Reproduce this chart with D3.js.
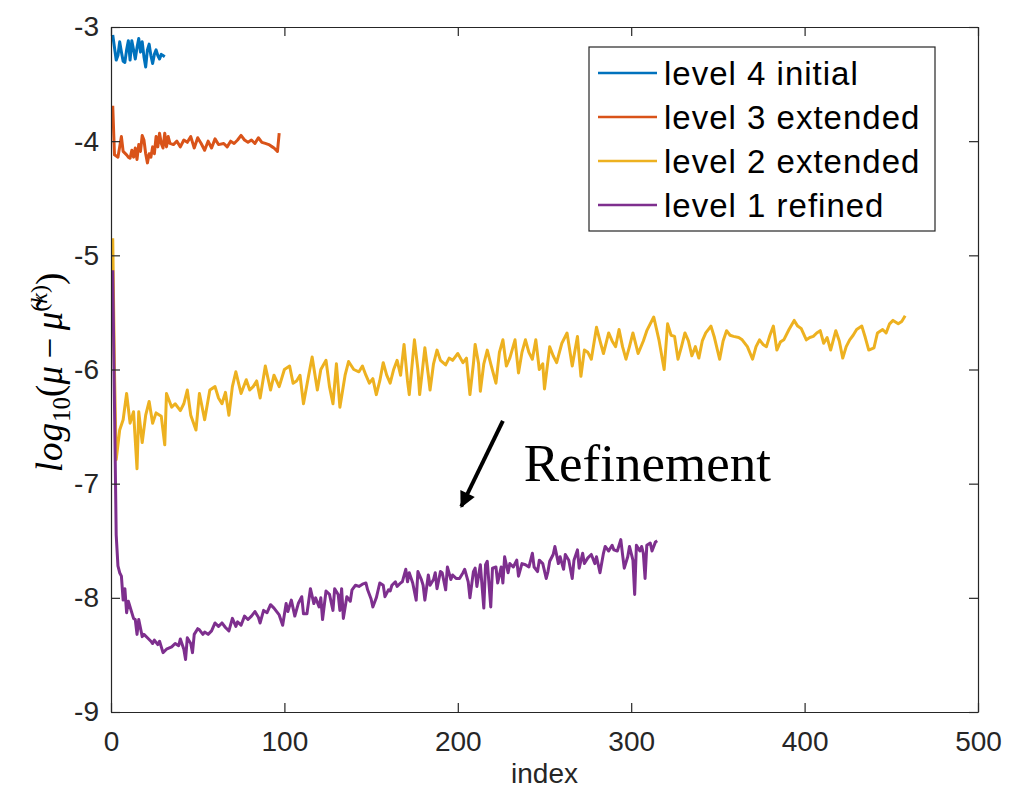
<!DOCTYPE html>
<html>
<head>
<meta charset="utf-8">
<script src="https://cdn.jsdelivr.net/npm/d3@7"></script>
<style>
    body { margin: 0; background: #fff; }
    svg { display: block; font-family: "Liberation Sans", Arial, sans-serif; }
</style>
</head>
<body>
<div id="chart"></div>
<script>
// ============================================================================
// DATA  — [index, log10 error]
// ============================================================================

const seriesNames  = ["level 4 initial", "level 3 extended", "level 2 extended", "level 1 refined"];
const seriesColors = ["#0072BD", "#D95319", "#EDB120", "#7E2F8E"];

const xTicks = [0, 100, 200, 300, 400, 500];
const yTicks = [-9, -8, -7, -6, -5, -4, -3];

const level4 = [
    [1,-3.07],[2,-3.18],[3,-3.29],[4,-3.25],[5,-3.13],[6,-3.22],[7,-3.30],[8,-3.31],
    [9,-3.20],[10,-3.12],[11,-3.29],[12,-3.12],[13,-3.20],[14,-3.28],[15,-3.18],[16,-3.10],
    [17,-3.22],[18,-3.13],[19,-3.26],[20,-3.35],[21,-3.20],[22,-3.15],[23,-3.25],[24,-3.32],
    [25,-3.24],[26,-3.20],[27,-3.25],[28,-3.28],[29,-3.24],[30,-3.25],[31,-3.26]
];

const level3 = [
    [1,-3.69],[2,-4.12],[4,-4.14],[5,-4.05],[6,-3.96],[7,-4.09],[9,-4.12],[10,-4.14],
    [11,-4.15],[12,-4.08],[13,-4.14],[14,-4.06],[15,-4.16],[16,-4.03],[17,-4.09],[18,-3.95],
    [19,-3.99],[20,-4.11],[21,-4.19],[22,-4.11],[23,-4.14],[24,-4.05],[25,-4.11],[26,-3.96],
    [27,-4.05],[28,-3.93],[29,-4.02],[30,-4.06],[31,-3.93],[32,-4.05],[33,-3.96],[34,-4.02],
    [36,-4.03],[38,-4.00],[40,-4.05],[42,-3.99],[44,-4.01],[46,-3.96],[48,-4.06],[50,-3.97],
    [52,-4.02],[54,-4.08],[56,-4.00],[58,-4.06],[60,-3.98],[62,-4.03],[65,-4.02],[67,-4.05],
    [69,-4.00],[71,-4.02],[73,-3.99],[75,-3.95],[77,-3.99],[79,-4.01],[81,-3.99],[83,-4.02],
    [85,-3.97],[87,-4.01],[89,-4.02],[91,-4.03],[93,-4.05],[94,-4.06],[96,-4.09],[97,-3.93]
];

const level2 = [
    [1,-4.85],[2,-6.00],[3,-6.79],[5,-6.53],[7,-6.44],[9,-6.21],[11,-6.47],[13,-6.37],
    [15,-6.87],[16,-6.37],[18,-6.64],[20,-6.40],[22,-6.28],[24,-6.47],[26,-6.38],[29,-6.41],
    [31,-6.66],[32,-6.21],[35,-6.33],[37,-6.30],[40,-6.36],[42,-6.30],[44,-6.18],[46,-6.40],
    [49,-6.53],[51,-6.21],[54,-6.44],[57,-6.18],[60,-6.15],[62,-6.25],[64,-6.30],[66,-6.20],
    [68,-6.40],[70,-6.15],[72,-6.02],[75,-6.21],[78,-6.09],[80,-6.18],[82,-6.15],[84,-6.10],
    [86,-6.25],[89,-5.97],[92,-6.18],[94,-6.05],[97,-6.15],[100,-6.00],[103,-5.97],[105,-6.12],
    [107,-6.10],[109,-6.05],[111,-6.30],[114,-6.05],[116,-5.89],[119,-6.18],[121,-6.00],[124,-5.92],
    [126,-6.15],[128,-6.30],[130,-5.95],[132,-6.33],[135,-6.05],[137,-5.93],[140,-6.00],[143,-6.02],
    [145,-5.97],[147,-6.05],[149,-6.12],[151,-6.08],[153,-6.22],[155,-6.10],[157,-5.94],[159,-6.05],
    [161,-6.12],[163,-6.00],[165,-5.92],[167,-6.05],[169,-5.78],[171,-6.10],[172,-6.22],[174,-5.90],
    [175,-5.74],[177,-6.00],[178,-6.22],[180,-5.95],[181,-5.81],[183,-6.05],[184,-6.18],[186,-5.95],
    [188,-5.83],[190,-5.92],[193,-5.96],[195,-5.90],[197,-5.92],[200,-5.86],[203,-5.94],[205,-5.90],
    [207,-6.22],[209,-5.95],[210,-5.78],[212,-5.95],[213,-6.19],[215,-5.95],[217,-5.83],[219,-5.95],
    [222,-6.12],[224,-5.85],[226,-5.74],[228,-5.97],[230,-5.90],[233,-5.74],[235,-6.03],[237,-5.85],
    [239,-5.74],[241,-5.85],[243,-5.91],[245,-5.74],[247,-6.00],[249,-5.95],[250,-6.17],[253,-5.80],
    [255,-5.88],[257,-5.94],[260,-5.77],[263,-5.68],[266,-5.97],[269,-5.71],[271,-6.06],[273,-5.83],
    [275,-5.85],[277,-5.91],[280,-5.63],[282,-5.75],[284,-5.86],[287,-5.68],[289,-5.75],[291,-5.80],
    [293,-5.65],[295,-5.80],[297,-5.91],[299,-5.80],[301,-5.68],[304,-5.86],[307,-5.75],[309,-5.66],
    [313,-5.54],[316,-5.74],[319,-6.00],[321,-5.60],[323,-5.70],[325,-5.71],[327,-5.91],[329,-5.80],
    [331,-5.68],[333,-5.75],[335,-5.88],[337,-5.80],[339,-5.90],[341,-5.75],[343,-5.68],[346,-5.62],
    [348,-5.72],[351,-5.91],[353,-5.75],[355,-5.66],[357,-5.70],[359,-5.71],[362,-5.72],[364,-5.74],
    [367,-5.80],[370,-5.91],[372,-5.80],[374,-5.74],[376,-5.78],[378,-5.80],[380,-5.70],[382,-5.62],
    [384,-5.83],[386,-5.76],[388,-5.74],[391,-5.65],[394,-5.57],[396,-5.62],[398,-5.64],[401,-5.74],
    [403,-5.72],[405,-5.71],[407,-5.68],[409,-5.66],[411,-5.77],[413,-5.72],[415,-5.83],[418,-5.66],
    [420,-5.75],[422,-5.90],[424,-5.80],[426,-5.74],[428,-5.70],[430,-5.65],[433,-5.62],[435,-5.72],
    [437,-5.83],[440,-5.81],[442,-5.68],[445,-5.65],[447,-5.68],[449,-5.60],[451,-5.57],[454,-5.60],
    [456,-5.58],[458,-5.53]
];

const level1 = [
    [1,-5.13],[2,-6.30],[3,-7.45],[4,-7.72],[5,-7.78],[6,-7.81],[7,-8.02],[8,-7.92],
    [9,-8.13],[10,-8.03],[11,-8.08],[13,-8.18],[14,-8.19],[15,-8.32],[16,-8.19],[18,-8.34],
    [19,-8.32],[21,-8.35],[23,-8.38],[24,-8.40],[25,-8.37],[27,-8.41],[28,-8.38],[29,-8.43],
    [30,-8.48],[32,-8.45],[35,-8.43],[37,-8.40],[39,-8.42],[40,-8.36],[42,-8.45],[43,-8.54],
    [44,-8.35],[46,-8.40],[47,-8.48],[48,-8.32],[50,-8.27],[51,-8.28],[53,-8.32],[54,-8.30],
    [56,-8.32],[58,-8.29],[60,-8.22],[62,-8.25],[64,-8.22],[66,-8.26],[68,-8.29],[70,-8.18],
    [72,-8.25],[73,-8.21],[75,-8.24],[77,-8.16],[79,-8.19],[81,-8.16],[83,-8.12],[85,-8.17],
    [86,-8.22],[88,-8.11],[90,-8.13],[92,-8.06],[94,-8.09],[96,-8.13],[97,-8.15],[99,-8.24],
    [101,-8.05],[102,-8.12],[104,-8.02],[106,-8.16],[108,-8.05],[110,-7.99],[111,-8.14],[113,-8.14],
    [115,-7.92],[117,-8.05],[118,-8.00],[120,-8.08],[121,-8.00],[122,-8.19],[124,-7.94],[126,-7.97],
    [128,-8.11],[129,-7.92],[131,-7.97],[132,-8.11],[133,-7.92],[134,-8.18],[136,-7.99],[138,-8.03],
    [139,-7.93],[141,-7.89],[143,-7.90],[145,-7.88],[147,-7.87],[148,-7.93],[150,-8.01],[151,-8.08],
    [153,-8.00],[155,-7.87],[157,-7.89],[158,-7.99],[160,-7.93],[161,-7.94],[162,-7.89],[164,-7.86],
    [165,-7.90],[167,-7.87],[168,-7.86],[170,-7.75],[171,-7.86],[172,-7.78],[174,-7.87],[176,-8.02],
    [177,-7.77],[179,-7.84],[180,-7.89],[181,-8.02],[183,-7.80],[184,-7.89],[186,-7.84],[187,-7.78],
    [188,-7.92],[190,-7.77],[191,-7.78],[193,-7.93],[194,-7.73],[196,-7.84],[197,-7.80],[199,-7.83],
    [201,-7.83],[203,-7.78],[204,-7.75],[206,-7.86],[207,-8.00],[209,-7.77],[210,-7.74],[211,-7.90],
    [213,-7.71],[215,-8.09],[216,-7.71],[217,-7.68],[219,-8.08],[220,-7.74],[222,-7.73],[223,-7.87],
    [225,-7.73],[226,-7.87],[227,-7.64],[229,-7.78],[230,-7.70],[232,-7.73],[234,-7.67],[235,-7.81],
    [237,-7.70],[239,-7.71],[241,-7.73],[243,-7.61],[244,-7.73],[246,-7.77],[247,-7.67],[249,-7.70],
    [251,-7.83],[252,-7.77],[253,-7.68],[255,-7.62],[256,-7.55],[258,-7.70],[259,-7.64],[261,-7.75],
    [262,-7.62],[264,-7.67],[266,-7.83],[267,-7.67],[269,-7.58],[270,-7.74],[272,-7.61],[273,-7.70],
    [275,-7.65],[277,-7.62],[279,-7.70],[280,-7.64],[282,-7.78],[284,-7.61],[285,-7.55],[287,-7.59],
    [289,-7.54],[290,-7.58],[292,-7.59],[294,-7.49],[295,-7.62],[296,-7.74],[298,-7.64],[299,-7.55],
    [301,-7.67],[302,-7.97],[303,-7.54],[305,-7.59],[306,-7.55],[307,-7.61],[308,-7.83],[309,-7.54],
    [311,-7.52],[312,-7.59],[314,-7.51],[315,-7.50]
];

const seriesData = [level4, level3, level2, level1];

// Annotation anchor points, in data units
const arrowFrom  = [226, -6.45];
const arrowTo    = [202, -7.20];
const noteAnchor = [238, -6.975];
const noteText   = "Refinement";


// ============================================================================
// SETUP
// ============================================================================

const W = 1015, H = 800;
const margin = { top: 27, right: 37, bottom: 88, left: 111 };
const width  = W - margin.left - margin.right;
const height = H - margin.top  - margin.bottom;
const axisColor = "#262626";
const TICK = 9;

const svg = d3.select("#chart")
    .append("svg")
    .attr("width", W)
    .attr("height", H);

const defs = svg.append("defs");
defs.append("clipPath").attr("id", "plot-clip")
    .append("rect").attr("width", width).attr("height", height);

defs.append("marker")
    .attr("id", "arrowhead")
    .attr("viewBox", "0 0 10 10")
    .attr("refX", 9).attr("refY", 5)
    .attr("markerWidth", 4.5).attr("markerHeight", 4)
    .attr("markerUnits", "strokeWidth")
    .attr("orient", "auto")
    .append("path")
    .attr("d", "M0,0 L10,5 L0,10 Z")
    .attr("fill", "#000");

const g = svg.append("g")
    .attr("transform", `translate(${margin.left},${margin.top})`);

const x = d3.scaleLinear().domain([0, 500]).range([0, width]);
const y = d3.scaleLinear().domain([-9, -3]).range([height, 0]);


// ============================================================================
// LINES
// ============================================================================

const line = d3.line()
    .x(d => x(d[0]))
    .y(d => y(d[1]));

g.append("g")
    .attr("clip-path", "url(#plot-clip)")
    .selectAll("path.series")
    .data(seriesData)
    .join("path")
    .attr("class", "series")
    .attr("d", line)
    .attr("fill", "none")
    .attr("stroke", (d, i) => seriesColors[i])
    .attr("stroke-width", 3)
    .attr("stroke-linejoin", "round");


// ============================================================================
// AXES (MATLAB style box, ticks inside on all four sides)
// ============================================================================

function styleAxis(sel) {
    sel.select(".domain").attr("stroke", axisColor).attr("stroke-width", 1.2);
    sel.selectAll(".tick line").attr("stroke", axisColor).attr("stroke-width", 1.2);
    sel.selectAll(".tick text")
        .attr("fill", axisColor)
        .style("font-size", "28px");
}

const plain = d => String(d);

g.append("g")
    .attr("transform", `translate(0,${height})`)
    .call(d3.axisBottom(x).tickValues(xTicks).tickFormat(plain)
        .tickSizeInner(-TICK).tickSizeOuter(0).tickPadding(19))
    .call(styleAxis);

g.append("g")
    .call(d3.axisLeft(y).tickValues(yTicks).tickFormat(plain)
        .tickSizeInner(-TICK).tickSizeOuter(0).tickPadding(12))
    .call(styleAxis);

g.append("g")
    .call(d3.axisTop(x).tickValues(xTicks).tickSizeInner(-TICK).tickSizeOuter(0).tickFormat(""))
    .call(styleAxis);

g.append("g")
    .attr("transform", `translate(${width},0)`)
    .call(d3.axisRight(y).tickValues(yTicks).tickSizeInner(-TICK).tickSizeOuter(0).tickFormat(""))
    .call(styleAxis);

svg.append("text")
    .attr("x", margin.left + width / 2)
    .attr("y", margin.top + height + 71)
    .attr("text-anchor", "middle")
    .style("font-size", "28px")
    .attr("fill", axisColor)
    .text("index");

// y label: log10(mu - mu~^(k)) in LaTeX-like serif
const ylab = svg.append("text")
    .attr("transform", `translate(62,${margin.top + height / 2 + 3}) rotate(-90)`)
    .attr("text-anchor", "middle")
    .style("font-family", "'Liberation Serif', 'DejaVu Serif', serif")
    .style("font-size", "37px")
    .attr("fill", "#000");

ylab.append("tspan").style("font-style", "italic").attr("letter-spacing", 1).text("log");
ylab.append("tspan").attr("dy", 8).style("font-size", "25px").text("10");
ylab.append("tspan").attr("dy", -8).text("(");
ylab.append("tspan").style("font-style", "italic").text("μ");
ylab.append("tspan").text("\u2009−\u2009");
ylab.append("tspan").style("font-style", "italic").text("μ\u0303");
ylab.append("tspan").attr("dy", -15).style("font-size", "24px").text("(");
ylab.append("tspan").style("font-size", "24px").style("font-style", "italic").text("k");
ylab.append("tspan").style("font-size", "24px").text(")");
ylab.append("tspan").attr("dy", 15).text(")");


// ============================================================================
// ANNOTATION
// ============================================================================

g.append("line")
    .attr("x1", x(arrowFrom[0])).attr("y1", y(arrowFrom[1]))
    .attr("x2", x(arrowTo[0])).attr("y2", y(arrowTo[1]))
    .attr("stroke", "#000")
    .attr("stroke-width", 4)
    .attr("marker-end", "url(#arrowhead)");

g.append("text")
    .attr("x", x(noteAnchor[0]))
    .attr("y", y(noteAnchor[1]))
    .style("font-family", "'Liberation Serif', 'Times New Roman', serif")
    .style("font-size", "53px")
    .attr("fill", "#000")
    .text(noteText);


// ============================================================================
// LEGEND
// ============================================================================

const legend = svg.append("g")
    .attr("transform", "translate(589,47)");

legend.append("rect")
    .attr("width", 346)
    .attr("height", 184)
    .attr("fill", "#fff")
    .attr("stroke", axisColor)
    .attr("stroke-width", 1.2);

const rows = legend.selectAll("g.row")
    .data(seriesNames)
    .join("g")
    .attr("class", "row")
    .attr("transform", (d, i) => `translate(0,${26 + i * 44})`);

rows.append("line")
    .attr("x1", 9).attr("x2", 68)
    .attr("stroke", (d, i) => seriesColors[i])
    .attr("stroke-width", 2.5);

rows.append("text")
    .attr("x", 75)
    .attr("dy", "0.35em")
    .style("font-size", "33px")
    .attr("letter-spacing", 1)
    .attr("fill", "#000")
    .text(d => d);
</script>
</body>
</html>
